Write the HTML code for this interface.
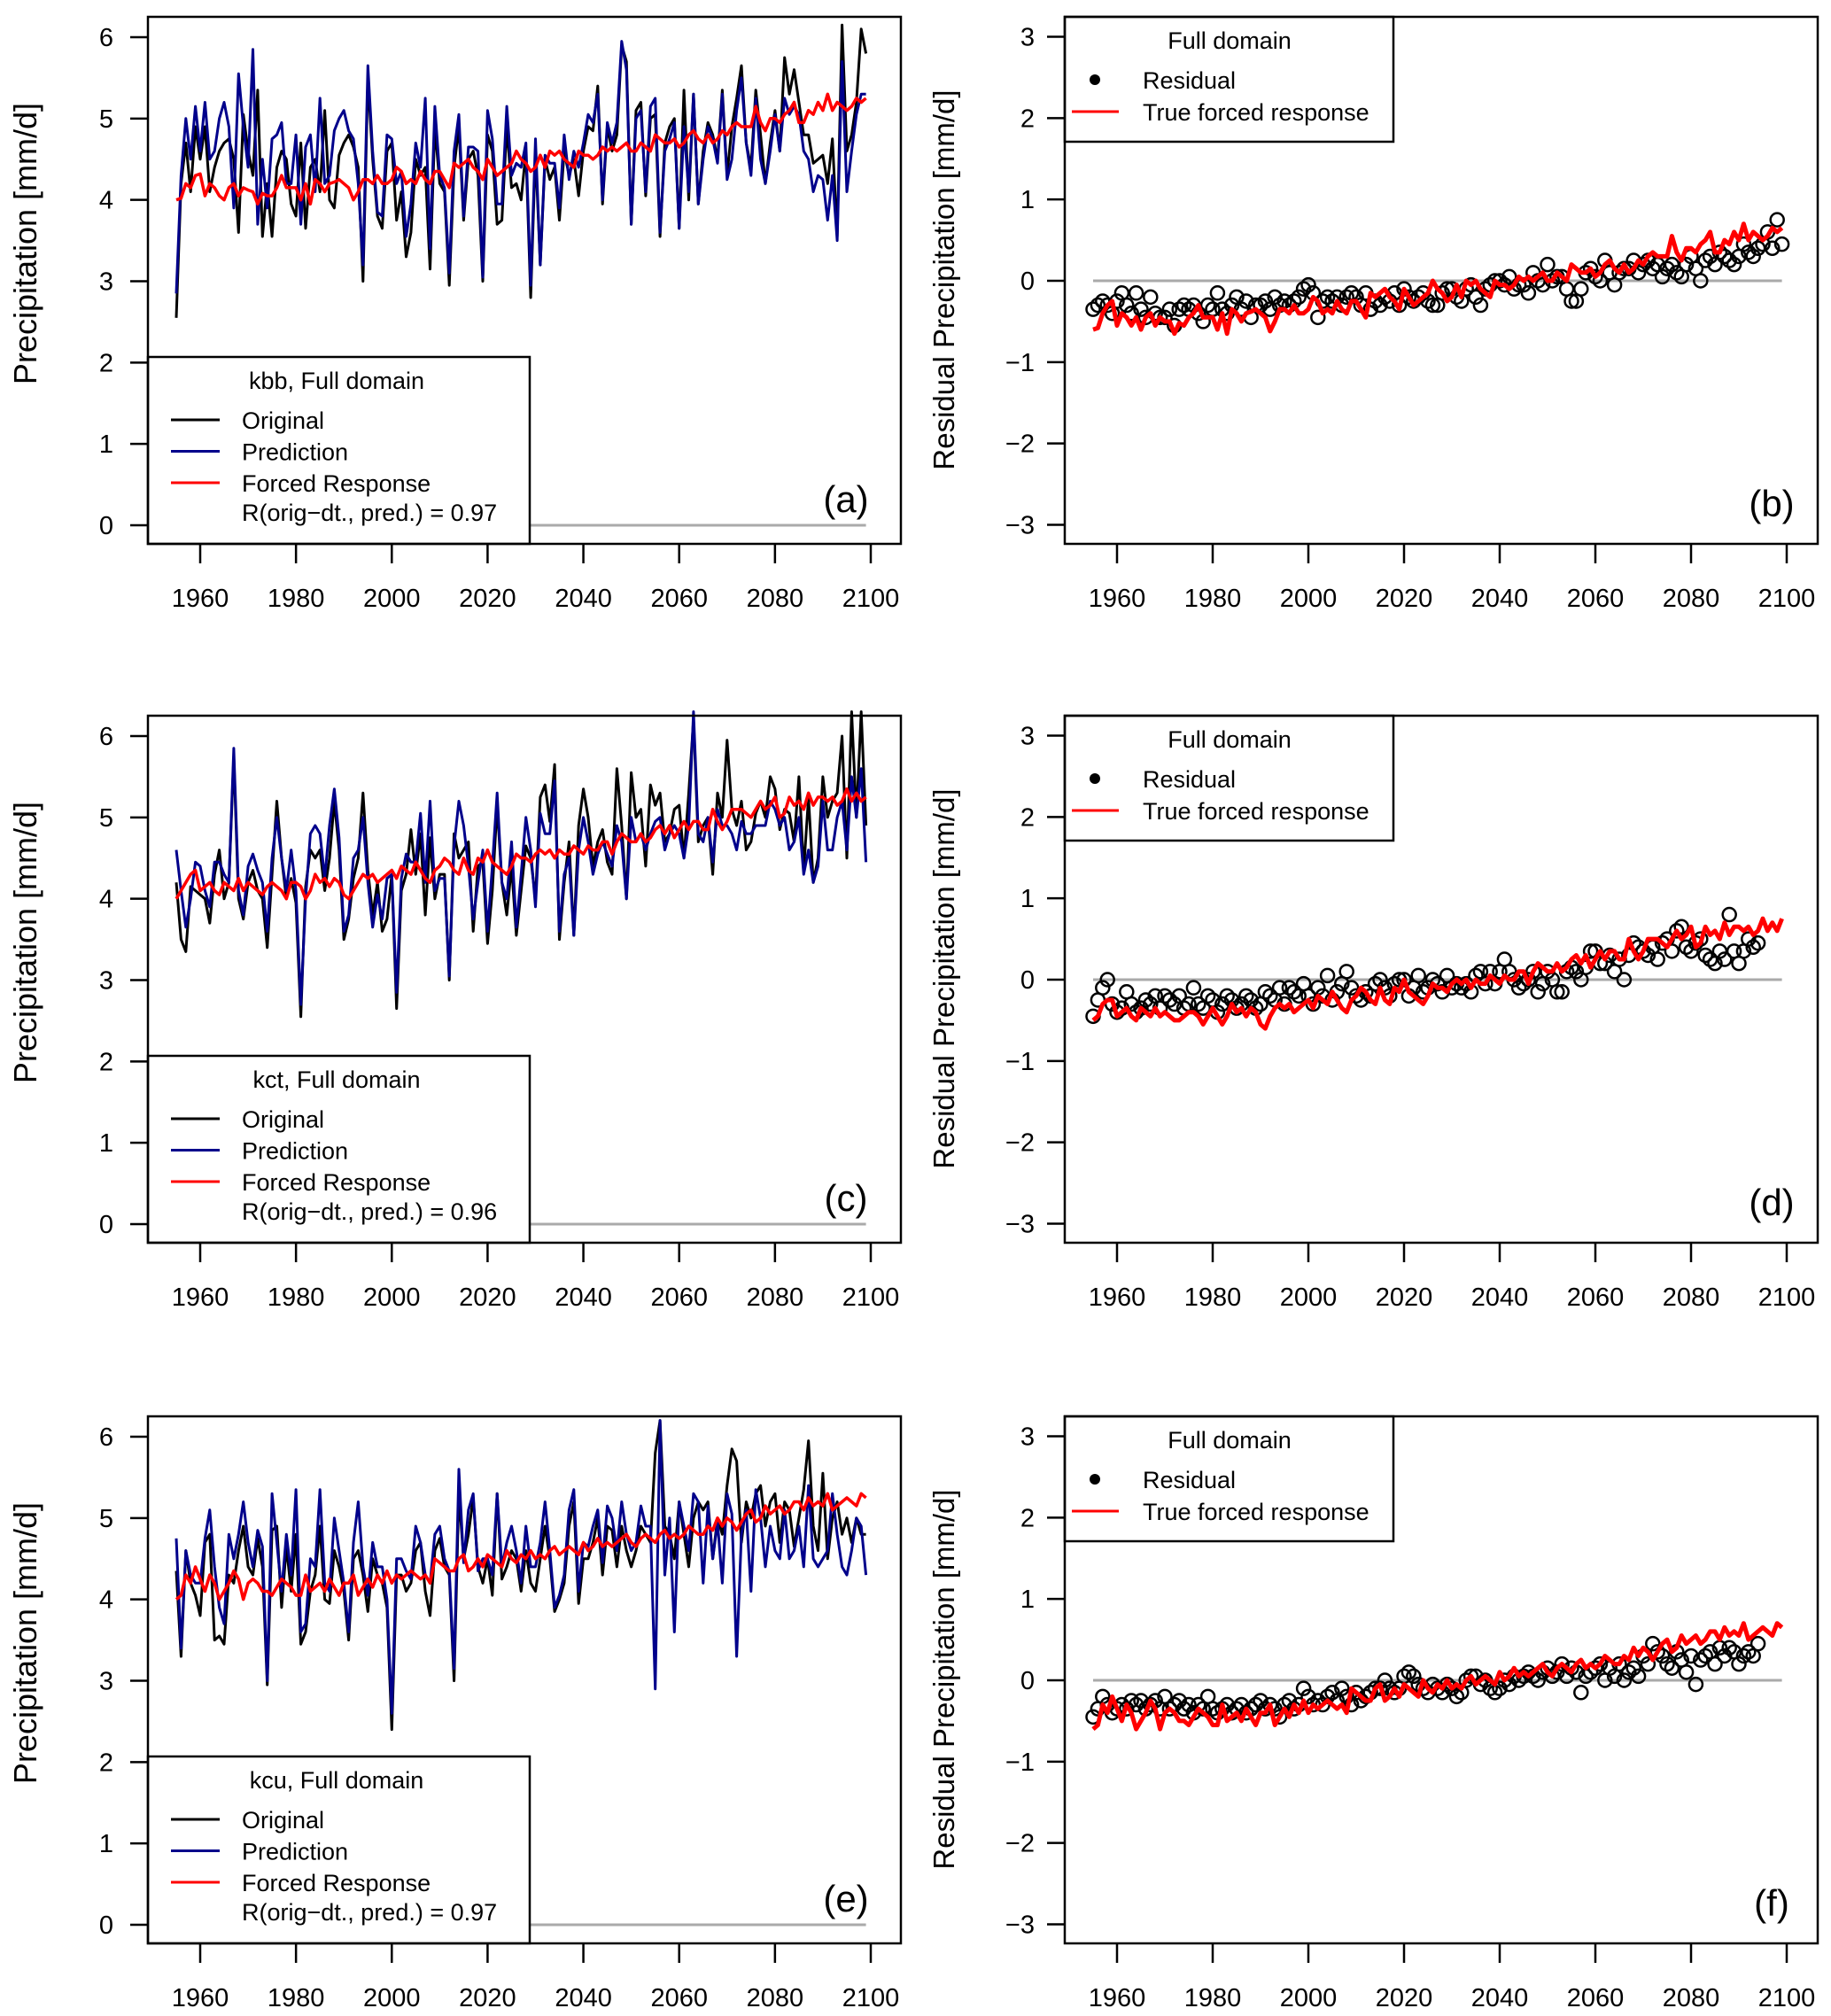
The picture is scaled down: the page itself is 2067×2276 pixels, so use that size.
<!DOCTYPE html>
<html><head><meta charset="utf-8"><style>
body{margin:0;background:#fff}
svg{display:block;font-family:"Liberation Sans",sans-serif}
</style></head><body>
<svg id="fig" width="2067" height="2276" viewBox="0 0 2067 2276" xmlns="http://www.w3.org/2000/svg"></svg>
<script>
const startYear = 1955;
const leftYTicks = [0,1,2,3,4,5,6];
const rightYTicks = [-3,-2,-1,0,1,2,3];
const xTicks = [1960,1980,2000,2020,2040,2060,2080,2100];

const origA = [2.55,4.2,4.7,4.1,4.9,4.5,4.9,4.1,4.4,4.6, 4.7,4.75,4.5,3.6,5.05,4.6,4.3,5.35,3.55,4.2, 3.55,4.4,4.6,4.5,3.95,3.8,4.7,3.65,4.4,4.5, 4.1,5.1,4.0,3.9,4.55,4.7,4.8,4.65,4.4,3.0, 5.5,4.5,3.8,3.65,4.6,4.7,3.75,4.1,3.3,3.6, 4.5,4.3,4.4,3.15,4.9,4.2,4.1,2.95,4.4,4.9, 3.75,4.5,4.6,4.3,3.0,4.8,4.6,3.7,3.75,4.9, 4.15,4.2,4.0,4.6,2.8,4.6,3.2,4.5,4.25,4.4, 3.75,4.6,4.3,4.5,4.05,4.6,4.9,4.85,5.4,3.95, 4.9,4.6,4.8,5.9,5.7,3.7,5.1,5.2,4.05,5.0, 5.05,3.55,4.7,4.9,5.0,3.65,5.35,4.0,5.3,3.95, 4.6,4.95,4.8,4.5,5.35,4.3,4.9,5.25,5.65,4.7, 4.4,5.35,4.8,4.2,4.7,5.1,4.6,5.75,5.3,5.6, 5.2,4.8,4.8,4.45,4.5,4.55,4.2,4.75,3.55,6.15, 4.6,4.8,5.2,6.1,5.8];
const predA = [2.85,4.3,5.0,4.5,5.15,4.6,5.2,4.5,4.6,5.0, 5.2,4.9,3.9,5.55,4.9,4.4,5.85,3.7,4.5,3.9, 4.75,4.8,4.95,4.2,4.2,4.8,3.7,4.65,4.8,4.1, 5.25,4.2,4.3,4.85,5.0,5.1,4.85,4.75,4.2,3.2, 5.65,4.6,3.85,3.8,4.8,4.75,4.2,4.35,3.55,3.95, 4.7,4.4,5.25,3.4,5.15,4.3,4.15,3.1,4.6,5.05, 3.8,4.65,4.65,4.6,3.05,5.1,4.75,3.95,3.95,5.15, 4.3,4.45,4.4,4.7,2.95,4.75,3.2,4.55,4.45,4.45, 3.9,4.8,4.25,4.6,4.4,4.7,5.05,4.95,5.3,4.0, 4.95,4.7,4.95,5.95,5.6,3.7,5.0,5.1,4.1,5.15, 5.25,3.6,4.6,4.75,4.95,3.65,4.9,4.1,5.3,3.95, 4.5,4.9,4.75,4.45,5.3,4.25,4.5,5.1,5.5,4.7, 4.3,5.25,4.5,4.2,4.6,5.05,4.6,5.25,5.05,5.15, 5.05,4.6,4.5,4.1,4.3,4.25,3.75,4.3,3.5,5.7, 4.1,4.6,5.05,5.3,5.3];
const forcedA = [4.0,4.02,4.2,4.15,4.3,4.32,4.05,4.2,4.15,4.05, 4.0,4.15,4.2,4.05,4.15,4.12,4.1,3.95,4.08,4.05, 4.05,4.15,4.3,4.15,4.15,4.15,4.0,4.2,3.95,4.25, 4.2,4.1,4.2,4.22,4.25,4.2,4.15,4.0,4.1,4.25, 4.25,4.2,4.3,4.2,4.2,4.25,4.4,4.35,4.2,4.25, 4.2,4.35,4.25,4.2,4.35,4.35,4.25,4.15,4.45,4.4, 4.45,4.5,4.4,4.35,4.25,4.5,4.4,4.3,4.35,4.4, 4.45,4.6,4.5,4.45,4.35,4.4,4.55,4.4,4.6,4.55, 4.6,4.5,4.45,4.4,4.6,4.55,4.55,4.5,4.55,4.65, 4.6,4.65,4.6,4.65,4.7,4.6,4.6,4.7,4.65,4.6, 4.8,4.75,4.7,4.7,4.75,4.65,4.7,4.8,4.85,4.75, 4.7,4.8,4.7,4.75,4.85,4.8,4.9,4.95,4.9,4.9, 4.9,5.15,4.95,4.85,5.0,5.0,4.95,5.05,5.1,5.2, 4.95,4.95,5.1,5.05,5.2,5.1,5.3,5.1,5.2,5.15, 5.1,5.15,5.25,5.2,5.25];

const origC = [4.2,3.5,3.35,4.15,4.1,4.05,4.0,3.7,4.3,4.6, 4.0,4.2,5.75,4.0,3.75,4.2,4.35,4.1,4.0,3.4, 4.3,5.2,4.5,4.0,4.25,3.95,2.55,4.15,4.6,4.5, 4.6,4.1,4.5,5.2,4.6,3.5,3.75,4.25,4.5,5.3, 4.35,3.8,4.2,3.6,3.75,4.3,2.65,4.1,4.3,4.85, 4.3,4.8,3.8,4.75,4.0,4.3,4.3,3.0,4.8,4.5, 4.6,4.7,3.6,4.4,4.45,3.45,4.1,5.15,4.2,3.8, 4.4,3.55,4.1,4.65,4.5,4.0,5.25,5.4,4.95,5.65, 3.5,4.2,4.7,3.55,4.9,5.35,5.0,4.4,4.7,4.85, 4.45,4.3,5.6,4.9,4.0,5.55,5.0,5.1,4.4,5.4, 5.15,5.3,4.7,4.8,5.1,5.15,4.5,5.3,6.2,4.7, 4.9,5.0,4.3,5.3,5.0,5.95,5.1,4.9,5.2,4.6, 4.7,5.05,5.2,5.0,5.5,5.35,4.85,5.1,5.05,4.7, 5.5,4.35,5.25,4.2,4.5,5.5,5.0,5.2,5.3,6.0, 4.5,6.3,5.0,6.3,4.9];
const predC = [4.6,4.1,3.65,4.0,4.45,4.4,4.1,3.9,4.45,4.45, 4.3,4.2,5.85,4.1,3.8,4.4,4.55,4.35,4.2,3.6, 4.5,5.0,4.5,4.1,4.6,4.1,2.7,4.0,4.8,4.9, 4.8,4.25,4.9,5.35,4.75,3.6,3.8,4.5,4.6,5.0, 4.2,3.65,4.05,3.75,4.25,4.3,2.85,4.25,4.55,4.45, 4.45,5.05,4.2,5.2,4.1,4.25,4.25,3.05,4.65,5.2, 4.9,4.4,3.75,4.2,4.6,3.6,4.4,5.3,4.2,4.0, 4.7,3.65,4.3,5.0,4.6,3.9,5.05,4.8,4.8,5.45, 3.6,4.3,4.5,3.55,4.6,5.0,4.7,4.3,4.55,4.7, 4.55,4.4,4.9,4.7,4.0,5.0,4.7,4.8,4.6,4.8, 4.95,5.0,4.6,4.8,4.9,4.8,4.5,4.9,6.3,4.8, 4.7,5.0,4.45,5.1,4.9,4.9,4.8,4.6,4.95,4.8, 4.8,4.9,4.9,4.9,5.2,5.1,4.9,5.0,4.6,4.7, 5.0,4.3,4.6,4.2,4.4,5.2,4.6,4.6,5.0,5.2, 4.6,5.5,5.0,5.6,4.45];
const forcedC = [4.0,4.1,4.2,4.3,4.35,4.1,4.15,4.2,4.1,4.05, 4.2,4.15,4.1,4.25,4.1,4.2,4.15,4.1,4.05,4.15, 4.2,4.15,4.1,4.0,4.2,4.2,4.15,4.0,4.1,4.3, 4.2,4.25,4.15,4.25,4.2,4.05,4.0,4.1,4.2,4.3, 4.25,4.3,4.2,4.25,4.3,4.35,4.25,4.4,4.35,4.3, 4.45,4.35,4.25,4.2,4.35,4.4,4.5,4.45,4.35,4.3, 4.5,4.35,4.3,4.5,4.45,4.6,4.45,4.4,4.35,4.3, 4.4,4.55,4.5,4.5,4.45,4.55,4.6,4.55,4.6,4.5, 4.6,4.55,4.55,4.65,4.6,4.55,4.65,4.6,4.6,4.7, 4.7,4.55,4.7,4.8,4.75,4.7,4.7,4.8,4.7,4.75, 4.85,4.9,4.8,4.9,4.75,4.85,4.95,4.85,4.95,4.95, 4.85,4.85,5.1,4.95,4.85,4.95,5.1,5.1,5.1,5.05, 5.0,5.1,5.2,5.1,5.15,5.25,5.0,5.05,5.25,5.15, 5.2,5.1,5.3,5.15,5.25,5.25,5.2,5.25,5.15,5.2, 5.35,5.2,5.3,5.2,5.25];

const origE = [4.35,3.3,4.6,4.2,4.05,3.8,4.7,4.8,3.5,3.55, 3.45,4.3,4.2,4.6,4.9,4.4,4.3,4.75,4.4,2.95, 4.85,4.9,3.9,4.65,4.1,4.8,3.45,3.6,4.1,4.3, 4.9,4.0,3.95,4.6,4.4,4.1,3.5,4.5,4.6,4.3, 3.85,4.5,4.3,4.2,3.9,2.4,4.3,4.3,4.1,4.2, 4.6,4.7,4.1,3.8,4.6,4.75,4.4,4.3,3.0,5.3, 4.5,4.8,5.25,4.4,4.2,4.5,4.05,5.3,4.25,4.4, 4.6,4.5,4.1,4.6,4.2,4.1,4.5,4.9,4.5,3.85, 4.0,4.2,4.9,5.2,3.95,4.5,4.5,4.7,5.0,4.3, 4.9,4.85,4.4,4.9,4.6,4.4,4.6,4.9,4.8,4.7, 5.8,6.2,4.9,4.8,4.5,5.2,4.8,4.4,5.0,5.2, 5.1,5.2,4.5,5.0,4.8,5.4,5.85,5.7,4.7,5.2, 5.0,5.3,5.4,4.9,5.2,5.3,4.7,5.2,5.1,4.65, 5.0,5.35,5.95,4.9,4.6,5.55,4.5,5.0,5.2,4.8, 5.0,4.7,5.0,4.8,4.8];
const predE = [4.75,3.4,4.6,4.3,4.2,4.2,4.75,5.1,4.4,3.9, 3.7,4.8,4.5,4.8,5.2,4.7,4.4,4.85,4.65,3.0, 5.3,4.7,4.1,4.8,4.3,5.35,3.6,3.7,4.5,4.4, 5.35,4.2,4.1,5.0,4.6,4.2,3.6,4.7,5.2,4.4, 4.05,4.7,4.4,4.4,4.0,2.6,4.5,4.5,4.35,4.25, 4.9,4.7,4.3,4.2,4.8,4.9,4.5,4.35,3.15,5.6, 4.45,5.1,5.3,4.35,4.5,4.5,4.3,5.3,4.4,4.7, 4.9,4.6,4.2,4.9,4.4,4.4,4.7,5.2,4.6,3.9, 4.05,4.3,5.1,5.35,4.1,4.7,4.65,4.9,5.1,4.45, 5.15,5.0,4.6,5.2,4.8,4.6,4.7,5.15,4.9,4.9, 2.9,6.2,4.3,5.0,3.6,5.2,4.9,4.6,5.3,5.2, 4.2,5.15,4.5,4.95,4.2,5.3,5.05,3.3,4.8,5.1, 4.1,5.35,5.0,4.4,4.9,4.6,4.5,5.1,4.5,4.6, 4.9,4.4,5.4,4.5,4.4,4.5,4.6,5.3,4.8,4.4, 4.3,4.6,5.0,4.9,4.3];
const forcedE = [4.0,4.05,4.3,4.2,4.4,4.25,4.1,4.3,4.2,4.0, 4.1,4.2,4.35,4.25,4.0,4.2,4.25,4.2,4.1,4.1, 4.05,4.15,4.25,4.2,4.15,4.05,4.05,4.3,4.1,4.15, 4.2,4.1,4.25,4.15,4.05,4.2,4.2,4.3,4.05,4.15, 4.25,4.15,4.3,4.2,4.35,4.2,4.3,4.25,4.3,4.35, 4.3,4.25,4.3,4.2,4.5,4.45,4.4,4.35,4.35,4.5, 4.55,4.35,4.4,4.5,4.4,4.55,4.5,4.45,4.4,4.6, 4.5,4.45,4.55,4.5,4.6,4.5,4.55,4.5,4.6,4.65, 4.55,4.6,4.65,4.6,4.55,4.7,4.6,4.65,4.75,4.65, 4.7,4.65,4.7,4.75,4.8,4.7,4.65,4.75,4.8,4.75, 4.7,4.8,4.85,4.75,4.8,4.75,4.8,4.9,4.85,4.8, 4.8,4.9,4.85,5.0,4.9,5.0,4.95,4.85,4.95,5.05, 5.1,4.95,5.0,5.15,5.05,5.1,5.15,5.05,5.1,5.2, 5.2,5.1,5.25,5.15,5.2,5.15,5.3,5.1,5.15,5.2, 5.25,5.2,5.15,5.3,5.25];

const residB = [-0.35,-0.3,-0.25,-0.3,-0.4,-0.25,-0.15,-0.3,-0.4,-0.15, -0.35,-0.45,-0.2,-0.4,-0.45,-0.45,-0.35,-0.55,-0.35,-0.3, -0.35,-0.3,-0.4,-0.5,-0.3,-0.35,-0.15,-0.35,-0.4,-0.3, -0.2,-0.35,-0.25,-0.45,-0.3,-0.3,-0.25,-0.35,-0.2,-0.3, -0.25,-0.3,-0.25,-0.2,-0.1,-0.05,-0.15,-0.45,-0.25,-0.2, -0.25,-0.2,-0.3,-0.2,-0.15,-0.2,-0.3,-0.15,-0.35,-0.25, -0.3,-0.2,-0.25,-0.15,-0.3,-0.1,-0.2,-0.25,-0.2,-0.15, -0.25,-0.3,-0.3,-0.15,-0.1,-0.1,-0.2,-0.25,-0.1,-0.05, -0.2,-0.3,-0.1,-0.05,0.0,0.0,-0.05,0.05,-0.1,-0.05, -0.05,-0.15,0.1,0.0,-0.05,0.2,0.0,0.05,0.05,-0.1, -0.25,-0.25,-0.1,0.1,0.15,0.05,0.0,0.25,0.1,-0.05, 0.1,0.15,0.15,0.25,0.1,0.2,0.25,0.15,0.2,0.05, 0.15,0.2,0.1,0.05,0.2,0.3,0.15,0.0,0.25,0.3, 0.2,0.35,0.3,0.25,0.2,0.3,0.45,0.35,0.3,0.4, 0.45,0.6,0.4,0.75,0.45];
const trueB = [-0.6,-0.58,-0.4,-0.3,-0.25,-0.55,-0.4,-0.45,-0.55,-0.45, -0.6,-0.45,-0.4,-0.55,-0.45,-0.5,-0.5,-0.65,-0.52,-0.55, -0.45,-0.4,-0.3,-0.45,-0.45,-0.45,-0.6,-0.4,-0.65,-0.35, -0.4,-0.5,-0.4,-0.38,-0.35,-0.4,-0.45,-0.62,-0.5,-0.35, -0.35,-0.4,-0.3,-0.4,-0.4,-0.35,-0.2,-0.25,-0.4,-0.35, -0.4,-0.25,-0.35,-0.4,-0.25,-0.25,-0.35,-0.45,-0.15,-0.2, -0.15,-0.1,-0.2,-0.25,-0.35,-0.1,-0.2,-0.3,-0.25,-0.2, -0.15,0.0,-0.1,-0.15,-0.25,-0.2,-0.05,-0.2,0.0,-0.05, 0.0,-0.1,-0.15,-0.2,0.0,-0.05,-0.05,-0.1,-0.05,0.05, 0.0,0.05,0.0,0.05,0.1,0.0,0.0,0.1,0.05,0.0, 0.2,0.15,0.1,0.1,0.15,0.05,0.1,0.2,0.25,0.15, 0.1,0.2,0.1,0.15,0.25,0.2,0.3,0.35,0.3,0.3, 0.3,0.55,0.35,0.25,0.4,0.4,0.35,0.45,0.5,0.6, 0.35,0.35,0.5,0.45,0.6,0.5,0.7,0.5,0.6,0.55, 0.5,0.55,0.65,0.6,0.65];

const residD = [-0.45,-0.25,-0.1,0.0,-0.3,-0.4,-0.35,-0.15,-0.3,-0.4, -0.35,-0.25,-0.3,-0.2,-0.35,-0.2,-0.25,-0.3,-0.2,-0.35, -0.3,-0.1,-0.3,-0.35,-0.2,-0.25,-0.4,-0.3,-0.2,-0.25, -0.35,-0.3,-0.2,-0.25,-0.35,-0.3,-0.15,-0.2,-0.25,-0.1, -0.3,-0.1,-0.15,-0.2,-0.05,-0.2,-0.3,-0.1,-0.2,0.05, -0.25,-0.15,-0.05,0.1,-0.1,-0.2,-0.25,-0.15,-0.2,-0.05, 0.0,-0.1,-0.2,-0.05,0.0,0.0,-0.2,-0.1,0.05,-0.15, -0.1,0.0,-0.05,-0.15,0.05,-0.1,-0.05,-0.1,-0.05,-0.15, 0.05,0.1,-0.05,0.1,-0.05,0.1,0.25,0.1,0.0,-0.1, -0.05,0.0,0.1,-0.15,-0.05,0.1,0.0,-0.15,-0.15,0.1, 0.15,0.1,0.0,0.15,0.35,0.35,0.2,0.2,0.3,0.1, 0.25,0.0,0.3,0.45,0.4,0.35,0.3,0.4,0.25,0.45, 0.5,0.35,0.6,0.65,0.4,0.35,0.45,0.5,0.3,0.25, 0.2,0.35,0.25,0.8,0.35,0.2,0.35,0.5,0.4,0.45];
const trueD = [-0.5,-0.45,-0.3,-0.25,-0.25,-0.45,-0.4,-0.35,-0.45,-0.5, -0.35,-0.4,-0.45,-0.35,-0.45,-0.4,-0.45,-0.5,-0.5,-0.45, -0.4,-0.4,-0.45,-0.55,-0.45,-0.35,-0.45,-0.55,-0.45,-0.3, -0.4,-0.35,-0.45,-0.35,-0.4,-0.55,-0.6,-0.45,-0.35,-0.3, -0.35,-0.3,-0.4,-0.35,-0.3,-0.25,-0.35,-0.2,-0.25,-0.3, -0.15,-0.25,-0.35,-0.4,-0.25,-0.2,-0.1,-0.15,-0.25,-0.3, -0.1,-0.25,-0.3,-0.1,-0.15,0.0,-0.15,-0.2,-0.25,-0.3, -0.2,-0.05,-0.1,-0.1,-0.15,-0.05,0.0,-0.05,0.0,-0.1, 0.0,-0.05,-0.05,0.05,0.0,-0.05,0.05,0.0,0.0,0.1, 0.1,-0.05,0.1,0.2,0.15,0.1,0.1,0.2,0.1,0.15, 0.25,0.3,0.2,0.3,0.15,0.25,0.35,0.25,0.35,0.35, 0.25,0.25,0.5,0.35,0.25,0.35,0.5,0.5,0.5,0.45, 0.4,0.5,0.6,0.5,0.55,0.65,0.4,0.45,0.65,0.55, 0.6,0.5,0.7,0.55,0.65,0.65,0.6,0.65,0.55,0.6, 0.75,0.6,0.7,0.6,0.75];

const residF = [-0.45,-0.35,-0.2,-0.3,-0.4,-0.35,-0.3,-0.35,-0.25,-0.3, -0.25,-0.35,-0.3,-0.25,-0.35,-0.2,-0.35,-0.3,-0.25,-0.35, -0.3,-0.4,-0.3,-0.35,-0.2,-0.35,-0.4,-0.35,-0.3,-0.4, -0.35,-0.3,-0.4,-0.35,-0.3,-0.25,-0.35,-0.3,-0.35,-0.45, -0.3,-0.25,-0.35,-0.3,-0.1,-0.2,-0.3,-0.25,-0.3,-0.2, -0.15,-0.25,-0.1,-0.2,-0.3,-0.15,-0.25,-0.2,-0.15,-0.1, -0.1,0.0,-0.1,-0.15,-0.1,0.05,0.1,0.05,-0.05,-0.1, -0.15,-0.05,-0.1,-0.15,-0.05,-0.1,-0.2,-0.15,0.0,0.05, 0.05,-0.05,0.0,-0.1,-0.15,-0.1,0.0,-0.05,0.05,0.0, 0.05,0.1,0.05,0.0,0.1,0.15,0.05,0.1,0.2,0.05, 0.15,0.1,-0.15,0.05,0.1,0.15,0.2,0.0,0.15,0.05, 0.2,0.0,0.1,0.15,0.05,0.3,0.2,0.45,0.35,0.3, 0.2,0.15,0.35,0.25,0.1,0.3,-0.05,0.25,0.3,0.35, 0.2,0.4,0.3,0.4,0.35,0.2,0.3,0.35,0.3,0.45];
const trueF = [-0.6,-0.55,-0.3,-0.4,-0.2,-0.35,-0.5,-0.3,-0.4,-0.6, -0.5,-0.4,-0.25,-0.35,-0.6,-0.4,-0.35,-0.4,-0.5,-0.5, -0.55,-0.45,-0.35,-0.4,-0.45,-0.55,-0.55,-0.3,-0.5,-0.45, -0.4,-0.5,-0.35,-0.45,-0.55,-0.4,-0.4,-0.3,-0.55,-0.45, -0.35,-0.45,-0.3,-0.4,-0.25,-0.4,-0.3,-0.35,-0.3,-0.25, -0.3,-0.35,-0.3,-0.4,-0.1,-0.15,-0.2,-0.25,-0.25,-0.1, -0.05,-0.25,-0.2,-0.1,-0.2,-0.05,-0.1,-0.15,-0.2,0.0, -0.1,-0.15,-0.05,-0.1,0.0,-0.1,-0.05,-0.1,0.0,0.05, -0.05,0.0,0.05,0.0,-0.05,0.1,0.0,0.05,0.15,0.05, 0.1,0.05,0.1,0.15,0.2,0.1,0.05,0.15,0.2,0.15, 0.1,0.2,0.25,0.15,0.2,0.15,0.2,0.3,0.25,0.2, 0.2,0.3,0.25,0.4,0.3,0.4,0.35,0.25,0.35,0.45, 0.5,0.35,0.4,0.55,0.45,0.5,0.55,0.45,0.5,0.6, 0.6,0.5,0.65,0.55,0.6,0.55,0.7,0.5,0.55,0.6, 0.65,0.6,0.55,0.7,0.65];

const NS = 'http://www.w3.org/2000/svg';
const svg = document.getElementById('fig');
function mk(tag, attrs, parent, text){
  const e = document.createElementNS(NS, tag);
  for (const k in attrs) e.setAttribute(k, attrs[k]);
  if (text !== undefined) e.textContent = text;
  (parent || svg).appendChild(e);
  return e;
}
function pts(arr, xs, ys){ return arr.map((v,i)=>xs(startYear+i).toFixed(1)+','+ys(v).toFixed(1)).join(' '); }

function leftPanel(oy, name, orig, pred, forced, label, r){
  const g = mk('g', {});
  
  
  const xs = y => 226 + (y-1960)*(983-226)/140;
  const ys = v => oy + 593 - v*(593-42)/6;
  const zl = mk('line', {x1:xs(1955), x2:xs(2099), y1:ys(0), y2:ys(0), stroke:'#aaa','stroke-width':3}, g);
  
  
  const l1 = mk('polyline', {points:pts(orig,xs,ys), fill:'none', stroke:'#000','stroke-width':3,'stroke-linejoin':'round'}, g);
  
  
  const l2 = mk('polyline', {points:pts(pred,xs,ys), fill:'none', stroke:'#00008b','stroke-width':3,'stroke-linejoin':'round'}, g);
  
  
  const l3 = mk('polyline', {points:pts(forced,xs,ys), fill:'none', stroke:'#ff0000','stroke-width':3.5,'stroke-linejoin':'round'}, g);
  
  
  const lg = mk('g', {}, g);
  
  
  mk('rect', {x:167, y:oy+403, width:431, height:211, fill:'#fff', stroke:'#000','stroke-width':2.5}, lg);
  mk('text', {x:380, y:oy+439, 'font-size':27, 'text-anchor':'middle'}, lg, name + ', Full domain');
  const items = [['Original','#000'],['Prediction','#00008b'],['Forced Response','#ff0000']];
  items.forEach((it,i)=>{
    const yy = oy + 474 + i*35.5;
    mk('line', {x1:193, x2:248, y1:yy, y2:yy, stroke:it[1], 'stroke-width':3}, lg);
    mk('text', {x:273, y:yy+10, 'font-size':27}, lg, it[0]);
  });
  mk('text', {x:273, y:oy+588, 'font-size':27}, lg, 'R(orig\u2212dt., pred.) = ' + r);
  axes(g, oy, xs, ys, leftYTicks, 'Precipitation [mm/d]', 30, 128, 167, 36, 275);
  const pl = mk('text', {x:955, y:oy+578, 'font-size':42, 'text-anchor':'middle'}, g, '(' + label + ')');
  
  
}

function rightPanel(oy, resid, truth, label){
  const g = mk('g', {});
  
  
  const xs = y => 1261 + (y-1960)*(2017-1261)/140;
  const ys = v => oy + 317 - v*(593-42)/6;
  const zl = mk('line', {x1:xs(1955), x2:xs(2099), y1:ys(0), y2:ys(0), stroke:'#aaa','stroke-width':3}, g);
  
  
  resid.forEach((v,i)=>{
    const c = mk('circle', {cx:xs(startYear+i), cy:ys(v), r:7.5, fill:'none', stroke:'#000','stroke-width':2.5}, g);
    
    
  });
  const l = mk('polyline', {points:pts(truth,xs,ys), fill:'none', stroke:'#ff0000','stroke-width':5,'stroke-linejoin':'round'}, g);
  
  
  const lg = mk('g', {}, g);
  
  
  mk('rect', {x:1202, y:oy+19, width:371, height:141, fill:'#fff', stroke:'#000','stroke-width':2.5}, lg);
  mk('text', {x:1388, y:oy+55, 'font-size':27, 'text-anchor':'middle'}, lg, 'Full domain');
  mk('circle', {cx:1236, cy:oy+90, r:6, fill:'#000'}, lg);
  mk('text', {x:1290, y:oy+100, 'font-size':27}, lg, 'Residual');
  mk('line', {x1:1210, x2:1263, y1:oy+126, y2:oy+126, stroke:'#ff0000','stroke-width':3}, lg);
  mk('text', {x:1290, y:oy+136, 'font-size':27}, lg, 'True forced response');
  axes(g, oy, xs, ys, rightYTicks, 'Residual Precipitation [mm/d]', 1066, 1168, 1202, 33, 316);
  const pl = mk('text', {x:2000, y:oy+583, 'font-size':42, 'text-anchor':'middle'}, g, '(' + label + ')');
  
  
}

function axes(g, oy, xs, ys, yticks, title, tx, lx, left, tfs, tcy){
  const box = mk('rect', {x:left, y:oy+19, width:850, height:595, fill:'none', stroke:'#000','stroke-width':2.5}, g);
  
  
  const ya = mk('g', {}, g);
  
  
  yticks.forEach(t=>{
    mk('line', {x1:left-20, x2:left, y1:ys(t), y2:ys(t), stroke:'#000','stroke-width':2.5}, ya);
    mk('text', {x:lx, y:ys(t)+10, 'font-size':29, 'text-anchor':'end'}, ya, t<0 ? '\u2212'+(-t) : String(t));
  });
  const xa = mk('g', {}, g);
  
  
  xTicks.forEach(t=>{
    mk('line', {x1:xs(t), x2:xs(t), y1:oy+614, y2:oy+636, stroke:'#000','stroke-width':2.5}, xa);
    mk('text', {x:xs(t), y:oy+685, 'font-size':29, 'text-anchor':'middle'}, xa, String(t));
  });
  const cy = oy + tcy;
  const tt = mk('text', {x:tx, y:cy, 'font-size':tfs, 'text-anchor':'middle', transform:'rotate(-90 '+tx+' '+cy+')', dy:11}, g, title);
  
  
}

leftPanel(0, 'kbb', origA, predA, forcedA, 'a', '0.97');
rightPanel(0, residB, trueB, 'b');
leftPanel(789, 'kct', origC, predC, forcedC, 'c', '0.96');
rightPanel(789, residD, trueD, 'd');
leftPanel(1580, 'kcu', origE, predE, forcedE, 'e', '0.97');
rightPanel(1580, residF, trueF, 'f');
</script>
</body></html>
